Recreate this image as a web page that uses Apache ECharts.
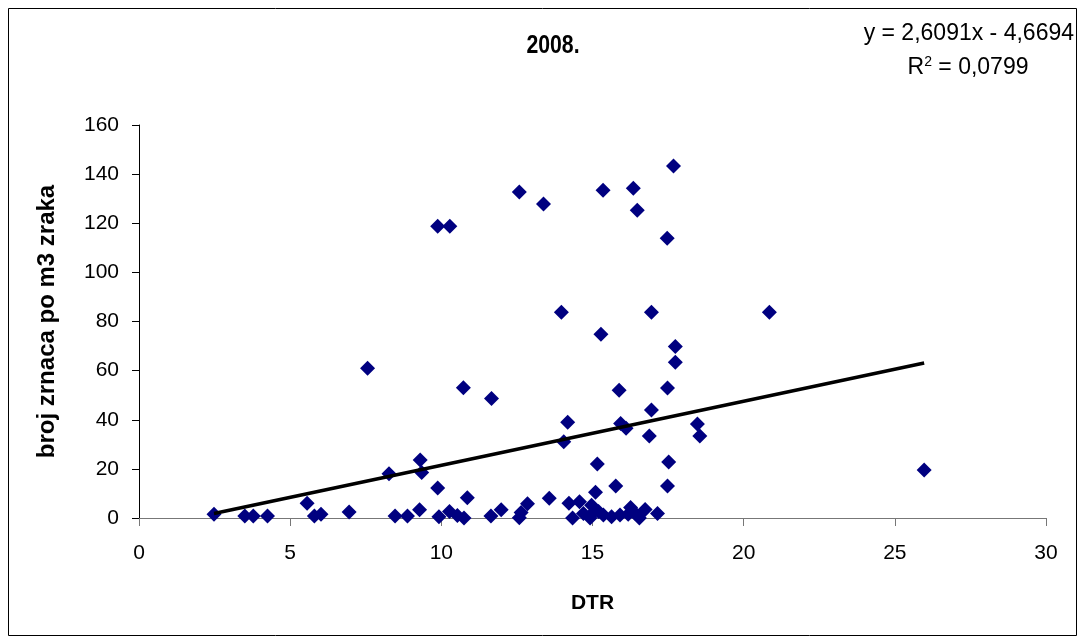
<!DOCTYPE html>
<html>
<head>
<meta charset="utf-8">
<script src="https://cdn.jsdelivr.net/npm/echarts@6/dist/echarts.min.js"></script>
<style>html,body{margin:0;padding:0;background:#fff}#c{width:1085px;height:644px}</style>
</head>
<body>
<div id="c"></div>
<script>
// DTR values (x)
var dtr = [2.48, 3.5, 3.78, 4.25, 5.56, 5.8, 6.02, 6.95, 7.56, 8.27,
  8.47, 8.88, 9.28, 9.3, 9.35, 9.88, 9.88, 9.92, 10.28, 10.27,
  10.53, 10.73, 10.75, 10.86, 11.64, 11.66, 11.98, 12.58, 12.58, 12.64,
  12.85, 13.38, 13.57, 13.97, 14.05, 14.18, 14.22, 14.34, 14.57, 14.7,
  14.92, 14.97, 15.05, 15.1, 15.16, 15.2, 15.28, 15.35, 15.36, 15.63,
  15.77, 15.88, 15.91, 15.93, 16.11, 16.18, 16.26, 16.35, 16.4, 16.48,
  16.55, 16.74, 16.88, 16.95, 16.95, 17.15, 17.47, 17.48, 17.48, 17.52,
  17.68, 17.74, 17.74, 18.47, 18.55, 20.85, 25.97];
// broj zrnaca po m3 zraka (y)
var counts = [1.5, 0.8, 0.8, 0.8, 6, 0.8, 1.5, 2.4, 61, 18,
  0.8, 0.8, 3.4, 23.6, 18.5, 12.2, 118.8, 0.5, 118.8, 2.6,
  1.0, 53, 0, 8.2, 0.8, 48.7, 3.4, 132.7, 0.1, 2.2,
  5.8, 127.8, 8.0, 83.8, 31, 39, 6, 0, 6.6, 1.8,
  0, 5.2, 2.5, 10.5, 22, 2.6, 74.8, 133.4, 1.2, 0.5,
  13, 52, 1.2, 38.5, 36.5, 1.5, 4.3, 134.2, 2, 125.3,
  0, 3.5, 33.4, 83.8, 44, 1.8, 113.9, 52.9, 13, 22.8,
  143.3, 69.8, 63.4, 38.3, 33.4, 83.8, 19.5];
// linear trend coefficients (from the chart's equation label)
var slope = 2.6091, intercept = -4.6694;
var xTicks = [0, 5, 10, 15, 20, 25, 30];
var yTicks = [0, 20, 40, 60, 80, 100, 120, 140, 160];

var pts = dtr.map(function (x, i) { return [x, counts[i]]; });
var xMin = Math.min.apply(null, dtr), xMax = Math.max.apply(null, dtr);
var trend = [[xMin, slope * xMin + intercept], [xMax, slope * xMax + intercept]];

var font = '"Liberation Sans", Arial, sans-serif';
var chart = echarts.init(document.getElementById('c'), null, {renderer: 'canvas'});
chart.setOption({
  animation: false,
  backgroundColor: '#fff',
  grid: {left: 139, top: 125, width: 907, height: 393, containLabel: false},
  xAxis: {
    type: 'value', min: xTicks[0], max: xTicks[xTicks.length - 1], interval: 5,
    name: 'DTR', nameLocation: 'middle', nameGap: 75,
    nameTextStyle: {fontFamily: font, fontSize: 21, fontWeight: 'bold', color: '#000'},
    axisLine: {onZero: false, lineStyle: {color: '#777', width: 1}},
    axisTick: {show: true, length: 8, lineStyle: {color: '#777'}},
    axisLabel: {margin: 25, fontFamily: font, fontSize: 21, color: '#000'},
    splitLine: {show: false}
  },
  yAxis: {
    type: 'value', min: yTicks[0], max: yTicks[yTicks.length - 1], interval: 20,
    name: 'broj zrnaca po m3 zraka', nameLocation: 'middle', nameGap: 80, nameRotate: 90,
    nameTextStyle: {fontFamily: font, fontSize: 24, fontWeight: 'bold', color: '#000'},
    axisLine: {show: true, lineStyle: {color: '#000', width: 1}},
    axisTick: {show: true, length: 7, lineStyle: {color: '#000'}},
    axisLabel: {margin: 20, fontFamily: font, fontSize: 21, color: '#000'},
    splitLine: {show: false}
  },
  series: [
    {
      type: 'scatter', data: pts, symbol: 'diamond', symbolSize: 15,
      itemStyle: {color: '#000080', opacity: 1}, z: 3
    },
    {
      type: 'line', data: trend, symbol: 'none', z: 4,
      lineStyle: {color: '#000', width: 3.5}
    }
  ],
  graphic: [
    {type: 'rect', shape: {x: 8.5, y: 8.5, width: 1068, height: 627},
     style: {fill: 'none', stroke: '#000', lineWidth: 1}, silent: true},
    {type: 'text', x: 553, y: 46, scaleX: 0.85, scaleY: 1,
     style: {text: '2008.', fontFamily: font, fontSize: 25, fontWeight: 'bold', fill: '#000', textAlign: 'center', textVerticalAlign: 'middle'}},
    {type: 'text', x: 1074, y: 34,
     style: {text: 'y = 2,6091x - 4,6694', fontFamily: font, fontSize: 23, fill: '#000', textAlign: 'right', textVerticalAlign: 'middle'}},
    {type: 'text', x: 968, y: 68,
     style: {text: '{a|R}{s|2}{a| = 0,0799}', textAlign: 'center', textVerticalAlign: 'middle',
       rich: {a: {fontFamily: font, fontSize: 23, fill: '#000'},
              s: {fontFamily: font, fontSize: 14, fill: '#000', padding: [0, 0, 12, 0]}}}}
  ]
});
</script>
</body>
</html>
